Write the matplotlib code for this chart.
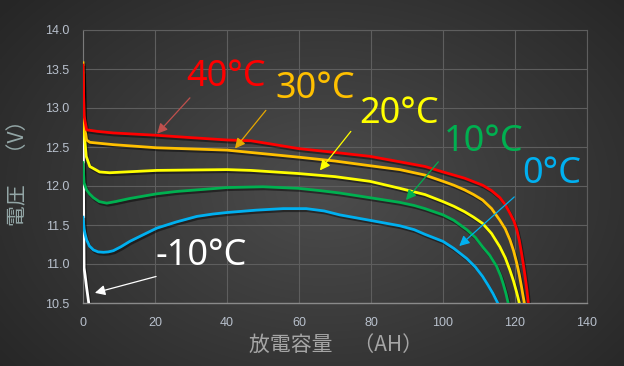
import numpy as np
import matplotlib
matplotlib.use('Agg')
import matplotlib.pyplot as plt
import matplotlib.patheffects as pe

# discharge curves, capacity (AH) vs voltage (V)
red_x = [0, 0.3, 1, 4, 8.4, 20.5, 30, 40, 46.6, 52, 59.8, 70, 79.7, 88, 95, 100,
         106, 111, 113.5, 115.8, 117.3, 118.6, 119.7, 120.5, 121.2, 121.8, 122.3,
         122.8, 123.3, 123.7]
red_y = [13.55, 12.9, 12.72, 12.70, 12.68, 12.65, 12.62, 12.59, 12.58, 12.54, 12.48,
         12.43, 12.38, 12.31, 12.25, 12.18, 12.10, 12.01, 11.94, 11.85, 11.76, 11.65,
         11.55, 11.44, 11.30, 11.14, 11.00, 10.84, 10.67, 10.5]

orange_x = [0, 0.3, 1, 1.9, 8.4, 20.5, 40, 46.6, 59.8, 70, 79.7, 88, 95, 100, 103,
            106, 108.5, 111, 113.5, 115.8, 117.3, 118.6, 119.6, 120.5, 121.2, 121.8,
            122.2, 122.6]
orange_y = [13.58, 12.8, 12.59, 12.56, 12.53, 12.49, 12.46, 12.43, 12.37, 12.32,
            12.26, 12.21, 12.14, 12.06, 12.01, 11.95, 11.89, 11.82, 11.71, 11.56,
            11.45, 11.31, 11.17, 11.01, 10.86, 10.71, 10.60, 10.5]

yellow_x = [0, 0.3, 0.9, 1.9, 4.6, 7.4, 20.5, 40, 46.6, 59.8, 70, 79.7, 88, 95, 100,
            103, 106, 108.5, 111, 113.5, 115.8, 117.3, 118.6, 119.6, 120.5, 121.2]
yellow_y = [13.45, 12.7, 12.38, 12.25, 12.18, 12.17, 12.20, 12.21, 12.20, 12.16,
            12.12, 12.06, 11.97, 11.89, 11.80, 11.74, 11.67, 11.60, 11.52, 11.39,
            11.22, 11.08, 10.92, 10.78, 10.63, 10.5]

green_x = [0, 0.3, 1, 1.8, 2.9, 4.5, 6.6, 9, 13, 20.5, 26, 31.6, 40, 50, 59.8, 66,
           71.3, 79.7, 88, 92, 95, 100, 103, 106.6, 109, 111, 113, 114.9, 116, 116.7,
           117.5, 118.1]
green_y = [12.3, 12.04, 11.95, 11.90, 11.85, 11.80, 11.78, 11.80, 11.84, 11.90, 11.93,
           11.95, 11.98, 11.99, 11.97, 11.94, 11.91, 11.85, 11.79, 11.75, 11.71, 11.63,
           11.56, 11.44, 11.34, 11.22, 11.11, 10.97, 10.85, 10.75, 10.62, 10.5]

blue_x = [0, 0.3, 0.6, 1, 1.8, 2.9, 4.2, 5.7, 7, 8.4, 10.5, 13, 16.5, 20.5, 26, 31.6,
          36, 40, 48, 55.6, 62, 67, 71.3, 79.7, 88, 92, 95, 100, 103, 106.6, 109, 111,
          112.5, 113.9, 115.2]
blue_y = [11.6, 11.45, 11.38, 11.31, 11.23, 11.18, 11.155, 11.15, 11.155, 11.17, 11.22,
          11.29, 11.37, 11.46, 11.54, 11.61, 11.64, 11.66, 11.69, 11.71, 11.71, 11.68,
          11.63, 11.56, 11.49, 11.44, 11.38, 11.29, 11.20, 11.07, 10.96, 10.84, 10.73,
          10.62, 10.5]

white_x = [0, 0.1, 0.2, 0.3, 0.6, 1.0, 1.3, 1.6]
white_y = [13.45, 12.5, 11.5, 10.95, 10.85, 10.7, 10.6, 10.5]

labels = ['40°C', '30°C', '20°C', '10°C', '0°C', '-10°C']
label_xy = [(39.7, 13.40), (64.4, 13.24), (87.8, 12.92), (111.4, 12.56),
            (130.3, 12.15), (32.8, 11.10)]
arrow_tail = [(29.7, 13.13), (50.8, 12.97), (74.4, 12.70), (98.7, 12.31),
              (119.8, 11.86), (20.3, 10.84)]
arrow_head = [(20.6, 12.67), (42.2, 12.48), (65.8, 12.20), (89.7, 11.82),
              (104.5, 11.23), (3.3, 10.63)]

x_ticks = [0, 20, 40, 60, 80, 100, 120, 140]
y_ticks = [10.5, 11.0, 11.5, 12.0, 12.5, 13.0, 13.5, 14.0]

colors = ['#ff0000', '#ffc000', '#ffff00', '#00b050', '#00b0f0', '#ffffff']
arrow_colors = ['#c0504d', '#e6a800', '#ffff00', '#00b050', '#00b0f0', '#ffffff']

fig = plt.figure(figsize=(6.24, 3.66), dpi=100)

# dark radial background
bg = fig.add_axes([0, 0, 1, 1], zorder=-10)
gx, gy = np.meshgrid(np.linspace(0, 1, 312), np.linspace(0, 1, 183))
r = np.sqrt(((gx - 0.52) / 0.62) ** 2 + ((gy - 0.52) / 0.75) ** 2)
shade = np.clip(0.30 - 0.14 * r, 0.15, 0.30)
bg.imshow(np.dstack([shade, shade, shade]), extent=[0, 1, 0, 1], aspect='auto',
          interpolation='bilinear')
bg.axis('off')

ax = fig.add_axes([83 / 624, 1 - 303 / 366, 504 / 624, 273 / 366])
ax.set_facecolor('none')

shadow = [pe.SimpleLineShadow(offset=(1, -1.5), shadow_color='black', alpha=0.45),
          pe.Normal()]
series = [(white_x, white_y, colors[5]), (blue_x, blue_y, colors[4]),
          (green_x, green_y, colors[3]), (yellow_x, yellow_y, colors[2]),
          (orange_x, orange_y, colors[1]), (red_x, red_y, colors[0])]
for xs, ys, c in series:
    ax.plot(xs, ys, color=c, lw=2.0, solid_joinstyle='round', path_effects=shadow,
            zorder=3)

for i, txt in enumerate(labels):
    ax.text(label_xy[i][0], label_xy[i][1], txt, color=colors[i], fontsize=26,
            family=['Noto Sans', 'DejaVu Sans'], fontstretch='condensed',
            fontweight='light', ha='center', va='center', zorder=5, clip_on=False)
    ax.annotate('', xy=arrow_head[i], xytext=arrow_tail[i], zorder=4,
                arrowprops=dict(arrowstyle='-|>,head_length=0.6,head_width=0.3',
                                color=arrow_colors[i], lw=0.9, shrinkA=0, shrinkB=0))

ax.set_xlim(0, 140)
ax.set_ylim(10.5, 14.0)
ax.set_xticks(x_ticks)
ax.set_yticks(y_ticks)
ax.set_yticklabels(['%.1f' % v for v in y_ticks])
ax.grid(True, color='#5e5e5e', lw=0.8)
ax.set_axisbelow(True)
ax.tick_params(length=0, pad=10, labelsize=9, labelcolor='#b8c0cc')
for lab in ax.get_xticklabels() + ax.get_yticklabels():
    lab.set_family(['Liberation Sans', 'DejaVu Sans'])
for s in ['top', 'right', 'left']:
    ax.spines[s].set_color('#5e5e5e')
    ax.spines[s].set_linewidth(0.8)
ax.spines['left'].set_color('#7a7a7a')
ax.spines['bottom'].set_color('#8a8a8a')
ax.spines['bottom'].set_linewidth(1.0)

cjk = ['Noto Sans CJK JP', 'DejaVu Sans']
fig.text(336 / 624, 1 - 345 / 366, '放電容量　（AH）', color='#a6a6a6', fontsize=15,
         family=cjk, ha='center', va='center')
fig.text(18 / 624, 1 - 168 / 366, '電圧　（V）', color='#93a6a6', fontsize=15,
         family=cjk, ha='center', va='center', rotation=90)

fig.savefig('out.png', dpi=100)
